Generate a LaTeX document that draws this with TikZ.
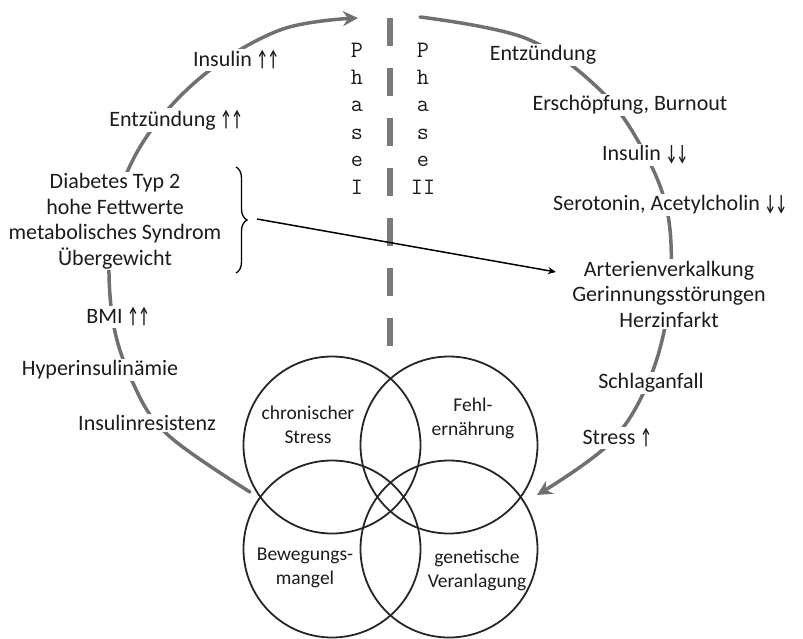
\documentclass[tikz,border=0pt]{standalone}
\usepackage{fontspec}
\usepackage{graphicx}
\setmainfont{Carlito}
\usetikzlibrary{arrows.meta,decorations.pathreplacing}
\definecolor{cycgray}{HTML}{707070}
\definecolor{dashgray}{HTML}{7A7A7A}
\definecolor{txt}{HTML}{1C1C1C}
\newcommand{\uarr}{\scalebox{0.55}[1]{\bfseries ↑}}
\newcommand{\darr}{\scalebox{0.55}[1]{\bfseries ↓}}
\begin{document}
\begin{tikzpicture}[x=1pt,y=-1pt,
  lbl/.style={fill=white, inner sep=1.5pt, text=txt, align=center, font=\fontsize{22}{25.5}\selectfont},
  inlbl/.style={text=txt, align=center, font=\fontsize{19.5}{24}\selectfont},
  ring/.style={draw=black!85, line width=1.8pt, circle, minimum size=177pt, inner sep=0pt},
  cyc/.style={draw=cycgray, line width=3.5pt, line cap=round, -{Stealth[length=15pt,width=15pt,inset=5pt]}},
  phaselbl/.style={text=txt, align=center, font=\fontsize{23.5}{27.4}\selectfont\ttfamily},
  divider/.style={draw=dashgray, line width=6pt, dash pattern=on 28pt off 22pt},
  link/.style={draw=black, line width=1.5pt, -{Stealth[length=8pt,width=7pt]}}
]
\useasboundingbox (0,0) rectangle (803,638);

% cycle coordinates, left side (bottom to top)
\coordinate (L0) at (250,492);
\coordinate (L1) at (168,435);
\coordinate (L2) at (133,383);
\coordinate (L3) at (112,315);
\coordinate (L4) at (112,225);
\coordinate (L5) at (140,147);
\coordinate (L6) at (200,78);
\coordinate (L7) at (280,30);
\coordinate (L8) at (358,18);
% right side (top to bottom)
\coordinate (R0) at (420,17);
\coordinate (R1) at (525,38);
\coordinate (R2) at (598,88);
\coordinate (R3) at (642,148);
\coordinate (R4) at (668,215);
\coordinate (R5) at (669,300);
\coordinate (R6) at (650,378);
\coordinate (R7) at (610,443);
\coordinate (R8) at (537,495);

\draw[cyc] plot[smooth, tension=0.6] coordinates {(L0) (L1) (L2) (L3) (L4) (L5) (L6) (L7) (L8)};
\draw[cyc] plot[smooth, tension=0.6] coordinates {(R0) (R1) (R2) (R3) (R4) (R5) (R6) (R7) (R8)};

% divider
\coordinate (dtop) at (390,18);
\coordinate (dbot) at (390,348);
\draw[divider] (dtop) -- (dbot);

% phase labels
\node[phaselbl] (ph1) at (357,118.5) {P\\h\\a\\s\\e\\I};
\node[phaselbl] (ph2) at (423,118.5) {P\\h\\a\\s\\e\\II};

% left labels
\node[lbl] (ins1) at (236,60) {Insulin \uarr\uarr};
\node[lbl] (ent1) at (176,120) {Entzündung \uarr\uarr};
\node[lbl] (diab) at (115,221) {Diabetes Typ 2\\hohe Fettwerte\\metabolisches Syndrom\\Übergewicht};
\node[lbl] (bmi) at (118,317) {BMI \uarr\uarr};
\node[lbl] (hyper) at (100,370) {Hyperinsulinämie};
\node[lbl] (insr) at (147,423) {Insulinresistenz};

% right labels
\node[lbl] (ent2) at (543,55) {Entzündung};
\node[lbl] (ersch) at (630,105) {Erschöpfung, Burnout};
\node[lbl] (ins2) at (645,155) {Insulin \darr\darr};
\node[lbl] (sero) at (670,205) {Serotonin, Acetylcholin \darr\darr};
\node[lbl] (arter) at (669,294) {Arterienverkalkung\\Gerinnungsstörungen\\Herzinfarkt};
\node[lbl] (schlag) at (651,383) {Schlaganfall};
\node[lbl] (stress) at (617,438) {Stress \uarr};

% brace and link
\coordinate (btop) at (236,167);
\coordinate (bbot) at (236,273);
\draw[black, line width=1.3pt, decorate, decoration={brace, amplitude=11pt}] (btop) -- (bbot);
\coordinate (bstart) at (257,219);
\coordinate (bend) at (556,272);
\draw[link] (bstart) -- (bend);

% Venn circles
\node[ring] (c1) at (332,445) {};
\node[ring] (c2) at (449,445) {};
\node[ring] (c3) at (332,549) {};
\node[ring] (c4) at (449,549) {};

\node[inlbl] (t1) at (308,425) {chronischer\\Stress};
\node[inlbl] (t2) at (473,418) {Fehl-\\ernährung};
\node[inlbl] (t3) at (305,568) {Bewegungs-\\mangel};
\node[inlbl] (t4) at (477,570) {genetische\\Veranlagung};
\end{tikzpicture}
\end{document}
